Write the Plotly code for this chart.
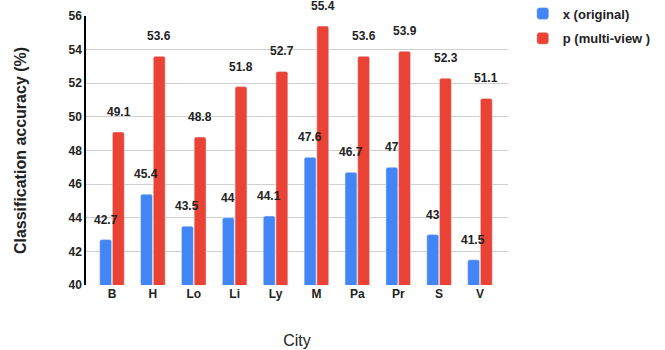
import plotly.graph_objects as go

cities = ["B", "H", "Lo", "Li", "Ly", "M", "Pa", "Pr", "S", "V"]
original = [42.7, 45.4, 43.5, 44.0, 44.1, 47.6, 46.7, 47.0, 43.0, 41.5]
multiview = [49.1, 53.6, 48.8, 51.8, 52.7, 55.4, 53.6, 53.9, 52.3, 51.1]
y_ticks = [40, 42, 44, 46, 48, 50, 52, 54, 56]

BLUE = "#4285F4"
RED = "#EA4335"
FONT = "Liberation Sans, Arial, sans-serif"

fig = go.Figure()
fig.add_trace(go.Bar(name="<b>x (original)</b>", x=cities, y=original,
                     legendgroup="a", marker=dict(color=BLUE, cornerradius=2)))
fig.add_trace(go.Bar(name="<b>p (multi-view )</b>", x=cities, y=multiview,
                     legendgroup="b", marker=dict(color=RED, cornerradius=2)))

# value labels above each bar
def fmt(v):
    return f"{v:g}"

for series, shift in ((original, -6.5), (multiview, 6.5)):
    for c, v in zip(cities, series):
        fig.add_annotation(x=c, y=v, text=f"<b>{fmt(v)}</b>", showarrow=False,
                           xshift=shift, yshift=20, yanchor="middle",
                           font=dict(family=FONT, size=12, color="#222222"))

fig.update_layout(
    width=665, height=350,
    margin=dict(l=86, r=157, t=16, b=65, autoexpand=False),
    plot_bgcolor="white", paper_bgcolor="white",
    barmode="group", bargap=0.38, bargroupgap=0.06,
    font=dict(family=FONT, color="#222222"),
    legend=dict(x=1.035, y=1.065, xanchor="left", yanchor="top", xref="paper",
                font=dict(family=FONT, size=13, color="#222222"),
                itemwidth=30, tracegroupgap=5, traceorder="grouped",
                bgcolor="rgba(0,0,0,0)"),
    xaxis=dict(title=dict(text="City", font=dict(size=16, color="#222222"), standoff=34),
               tickfont=dict(size=12, color="#222222", weight="bold"),
               range=[-0.636, 9.685],
               showgrid=False, showline=False, ticks="", automargin=False),
    yaxis=dict(title=dict(text="<b>Classification accuracy (%)</b>",
                          font=dict(size=16, color="#222222"), standoff=38),
               range=[40, 56], tickvals=y_ticks,
               tickfont=dict(size=12, color="#222222", weight="bold"),
               showgrid=True, gridcolor="#d0d0d0", gridwidth=1,
               showline=True, linecolor="#000000", linewidth=1.5,
               ticks="", zeroline=False, automargin=False),
)

fig.write_html("out.html")
